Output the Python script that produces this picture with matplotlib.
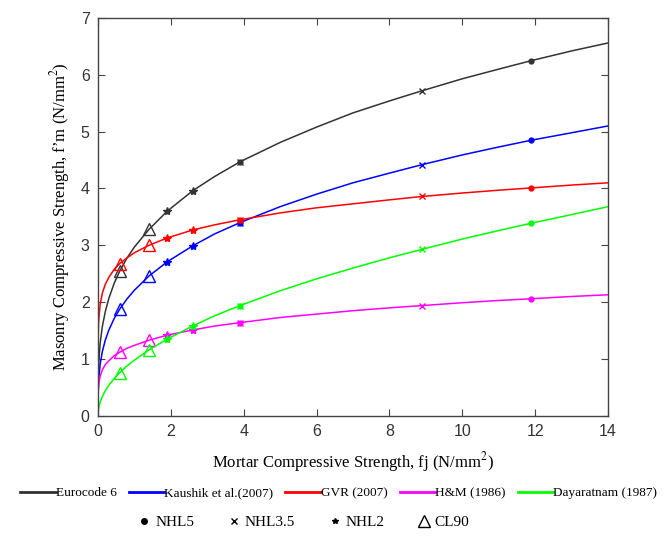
import numpy as np
import matplotlib.pyplot as plt
from matplotlib.lines import Line2D

plt.rcParams['mathtext.fontset'] = 'stix'

# mortar strength fj (N/mm2) where the curves were read
fj = [0, 0.005, 0.02, 0.06, 0.12, 0.2, 0.3, 0.45, 0.6, 0.8, 1.0, 1.4, 1.9, 2.6,
      3.2, 3.9, 5, 6, 7, 8, 8.9, 10, 11, 11.9, 13, 14]

# masonry strength f'm (N/mm2) for each model
eurocode6 = [0, 0.61, 0.92, 1.28, 1.57, 1.83, 2.07, 2.34, 2.55, 2.78, 2.97, 3.28, 3.60, 3.96,
             4.21, 4.47, 4.81, 5.08, 5.33, 5.54, 5.72, 5.93, 6.10, 6.25, 6.42, 6.56]
kaushik = [0, 0.41, 0.64, 0.91, 1.13, 1.33, 1.51, 1.72, 1.88, 2.06, 2.21, 2.46, 2.71, 2.99,
           3.20, 3.40, 3.68, 3.90, 4.10, 4.27, 4.42, 4.59, 4.73, 4.85, 4.98, 5.10]
gvr = [0, 1.40, 1.69, 1.96, 2.16, 2.31, 2.44, 2.58, 2.68, 2.78, 2.87, 3.00, 3.13, 3.27,
       3.36, 3.45, 3.57, 3.66, 3.73, 3.80, 3.86, 3.92, 3.97, 4.01, 4.06, 4.10]
hm = [0, 0.42, 0.56, 0.70, 0.81, 0.90, 0.97, 1.06, 1.12, 1.19, 1.24, 1.33, 1.42, 1.51,
      1.58, 1.64, 1.73, 1.79, 1.85, 1.90, 1.94, 1.99, 2.03, 2.06, 2.10, 2.13]
dayaratnam = [0, 0.07, 0.14, 0.24, 0.34, 0.44, 0.54, 0.66, 0.76, 0.88, 0.98, 1.16, 1.35, 1.58,
              1.76, 1.94, 2.20, 2.41, 2.60, 2.78, 2.93, 3.11, 3.26, 3.39, 3.54, 3.68]

models = ['Eurocode 6', 'Kaushik et al.(2007)', 'GVR (2007)', 'H&M (1986)', 'Dayaratnam (1987)']
series = [eurocode6, kaushik, gvr, hm, dayaratnam]
colors = ['#333333', '#0000ff', '#ff0000', '#ff00ff', '#00ff00']

# mortar types and the fj values tested for each
mortars = ['NHL5', 'NHL3.5', 'NHL2', 'CL90']
mortar_fj = {'NHL5': [3.9, 11.9], 'NHL3.5': [3.9, 8.9], 'NHL2': [1.9, 2.6], 'CL90': [0.6, 1.4]}
mortar_marker = {'NHL5': 'o', 'NHL3.5': 'x', 'NHL2': '*', 'CL90': '^'}
mortar_size = {'NHL5': 3.5, 'NHL3.5': 5, 'NHL2': 6, 'CL90': 9}

fig = plt.figure(figsize=(6.71, 5.45), dpi=100)
ax = fig.add_axes([0.146, 0.237, 0.76, 0.73])

for name, vals, c in zip(models, series, colors):
    ax.plot(fj, vals, color=c, lw=1.1)
    for m in mortars:
        idx = [fj.index(v) for v in mortar_fj[m]]
        xs = [fj[i] for i in idx]
        ys = [vals[i] for i in idx]
        if m == 'CL90':
            ax.plot(xs, ys, ls='none', marker='^', ms=mortar_size[m], mfc='none', mec=c, mew=1.0)
        else:
            ax.plot(xs, ys, ls='none', marker=mortar_marker[m], ms=mortar_size[m], color=c, mew=1.0)

ax.set_xlim(0, 14)
ax.set_ylim(0, 7)
ax.set_xticks(range(0, 15, 2))
ax.set_yticks(range(0, 8))
ax.tick_params(direction='in', top=True, right=True, length=5, color='#444444',
               labelsize=11.5, labelcolor='#333333', pad=6)
for lab in ax.get_xticklabels() + ax.get_yticklabels():
    lab.set_family('Liberation Sans')
for s in ax.spines.values():
    s.set_color('#444444')
    s.set_linewidth(1.0)

ax.set_xlabel('Mortar Compressive Strength, fj (N/mm$^2$)', family='Liberation Serif',
              fontsize=12, labelpad=8)
ax.set_ylabel('Masonry Compressive Strength, f\u2019m (N/mm$^2$)', family='Liberation Serif',
              fontsize=12, labelpad=6)

line_handles = [Line2D([], [], color=c, lw=2) for c in colors]
fig.legend(line_handles, models, loc='center', bbox_to_anchor=(0.505, 0.095), ncol=5,
           frameon=False, handlelength=2.7, handletextpad=0.0, columnspacing=0.9,
           prop={'family': 'Liberation Serif', 'size': 9.5})

mk_handles = []
for m in mortars:
    if m == 'CL90':
        mk_handles.append(Line2D([], [], ls='none', marker='^', ms=8, mfc='none', mec='black'))
    else:
        mk_handles.append(Line2D([], [], ls='none', marker=mortar_marker[m], ms=4, color='black'))
fig.legend(mk_handles, mortars, loc='center', bbox_to_anchor=(0.453, 0.042), ncol=4,
           frameon=False, handlelength=0.8, handletextpad=0.3, columnspacing=2.2,
           prop={'family': 'Liberation Serif', 'size': 11})

fig.savefig('out.png', dpi=100)
